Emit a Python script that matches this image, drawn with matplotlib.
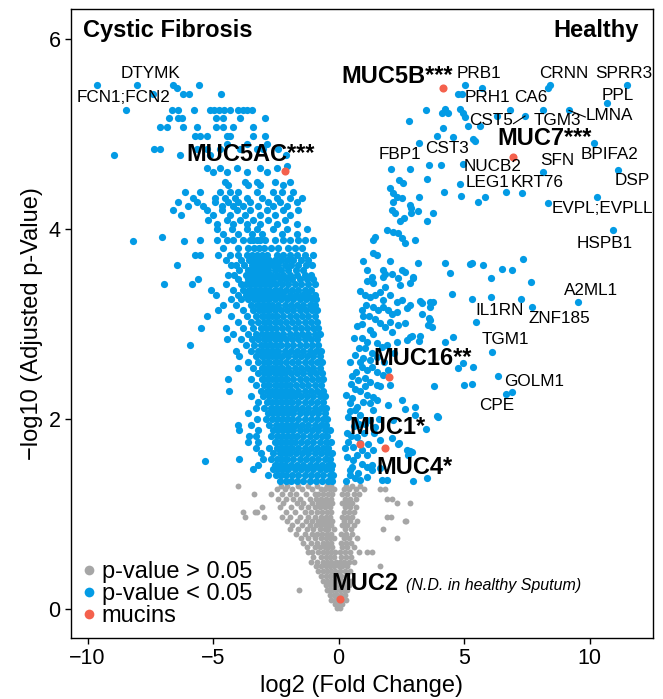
import numpy as np
import matplotlib.pyplot as plt
from matplotlib.lines import Line2D

plt.rcParams['font.family'] = ['Liberation Sans', 'DejaVu Sans']

# significant proteins (p < 0.05): (-log10 p, [log2 FC, ...])
sig_rows = [
    (5.52, [-9.62, -8.04, -6.6, -5.56]),
    (5.48, [-6.43]),
    (5.42, [-7.4, -6.19, -5.96, -4.68]),
    (5.25, [-8.46, -6.63, -6.39, -5.76, -5.12, -4.96, -4.76, -4.56, -4.32, -4.0, -3.8, -3.65, -3.45]),
    (5.17, [-6.75, -6.39, -6.24, -4.88, -4.6, -3.92, -2.93]),
    (5.07, [-7.11, -6.83, -6.2, -5.64, -4.88, -4.6, -4.2, -3.41]),
    (4.98, [-5.72, -5.52, -5.24, -4.44, -4.32, -3.41, -2.93]),
    (4.9, [-4.44, -3.65, -2.85]),
    (4.84, [-7.35, -7.11, -5.64, -5.24, -4.72, -3.92, -3.25, -3.01, -2.41]),
    (4.78, [-8.96, -6.32, -5.12, -2.09]),
    (4.66, [-2.05]),
    (4.64, [-5.24, -4.72, -4.04, -3.13, -2.45]),
    (4.6, [-5.0, -4.44, -3.65, -2.85]),
    (4.5, [-4.52, -3.72, -3.25, -2.53, -1.93]),
    (4.46, [-4.4, -3.61, -3.13, -2.21]),
    (4.39, [-6.12, -5.52, -4.72, -4.32, -4.0, -3.25, -2.61, -2.25, -1.81]),
    (4.33, [-5.8, -4.92, -4.52, -4.12, -3.65, -3.05, -2.45, -1.93, -1.45]),
    (4.28, [-6.39, -5.64, -4.92, -4.4, -4.0, -3.53, -2.81, -2.33, -1.65]),
    (4.24, [-6.0, -5.4, -4.64, -4.2, -3.8, -3.21, -2.61, -2.05]),
    (4.2, [-6.59, -5.24, -4.64, -4.04, -3.53, -2.85, -2.21, -1.61]),
    (4.15, [-6.27, -5.0, -4.32, -3.72, -3.13, -2.53, -1.93]),
    (4.1, [-5.2, -4.44, -3.92, -3.41, -2.81, -2.13]),
    (4.05, [-4.84, -4.2, -3.65, -3.13, -2.45, -1.65]),
    (4.0, [-4.84, -4.24, -3.65, -3.25, -2.61, -2.05, -1.25]),
    (3.95, [-4.6, -4.0, -3.45, -3.05, -2.25, -1.65]),
    (3.92, [-7.03]),
    (3.87, [-8.18, -6.16]),
    (3.88, [-5.52, -4.84, -4.44, -4.2, -3.8, -3.53, -3.41, -3.25, -3.13, -2.93, -2.53, -2.21, -1.93, -1.61, -1.33, -1.02]),
    (3.8, [-4.6, -4.0, -3.6, -3.35, -3.15, -2.95, -2.7, -2.4, -2.0, -1.75, -1.45]),
    (3.73, [-5.72, -5.52, -4.8, -4.32, -4.0, -3.65, -3.45, -3.25, -3.05, -2.85, -2.45, -2.21, -1.93, -1.65, -1.33, -1.02]),
    (3.67, [-4.5, -3.9, -3.55, -3.35, -3.15, -2.95, -2.75, -2.55, -2.3, -2.05, -1.8, -1.5, -1.2]),
    (3.62, [-6.43, -4.3, -4.1, -3.75, -3.45, -3.25, -3.05, -2.85, -2.65, -2.4, -2.15, -1.9, -1.6, -1.3, -1.05]),
    (3.57, [-3.95, -3.6, -3.4, -3.2, -3.0, -2.8, -2.55, -2.3, -2.0, -1.7, -1.4]),
    (3.52, [-4.4, -4.15, -3.7, -3.5, -3.3, -3.1, -2.9, -2.7, -2.45, -2.2, -1.95, -1.65, -1.35, -1.1]),
    (3.47, [-5.6, -4.0, -3.6, -3.4, -3.2, -3.0, -2.8, -2.6, -2.35, -2.1, -1.85, -1.55, -1.25, -1.0]),
    (3.42, [-6.95, -5.84, -4.5, -3.9, -3.7, -3.5, -3.3, -3.1, -2.9, -2.7, -2.5, -2.25, -2.0, -1.75, -1.5, -1.2, -0.95]),
    (3.36, [-5.1, -4.2, -3.8, -3.55, -3.35, -3.15, -2.95, -2.75, -2.55, -2.35, -2.1, -1.85, -1.6, -1.35, -1.1]),
    (3.31, [-4.9, -4.0, -3.7, -3.45, -3.25, -3.05, -2.85, -2.65, -2.45, -2.2, -1.95, -1.7, -1.45, -1.2, -0.95]),
    (3.26, [-4.3, -3.9, -3.6, -3.35, -3.15, -2.95, -2.75, -2.55, -2.3, -2.05, -1.8, -1.55, -1.3, -1.05, -0.9]),
    (3.2, [-4.6, -4.1, -3.5, -3.25, -3.05, -2.85, -2.65, -2.4, -2.15, -1.9, -1.65, -1.4, -1.15, -0.95]),
    (3.15, [-4.8, -3.8, -3.4, -3.15, -2.95, -2.75, -2.55, -2.3, -2.05, -1.8, -1.55, -1.3, -1.05, -0.85]),
    (3.08, [-5.24, -4.3, -3.65, -3.3, -3.05, -2.85, -2.65, -2.45, -2.2, -1.95, -1.7, -1.45, -1.2, -0.95]),
    (3.02, [-4.0, -3.5, -3.2, -2.95, -2.75, -2.55, -2.35, -2.1, -1.85, -1.6, -1.35, -1.1, -0.85]),
    (2.96, [-5.48, -4.5, -3.8, -3.4, -3.1, -2.9, -2.7, -2.5, -2.25, -2.0, -1.75, -1.5, -1.25, -1.0, -0.8]),
    (2.9, [-4.2, -3.6, -3.3, -3.05, -2.85, -2.65, -2.45, -2.2, -1.95, -1.7, -1.45, -1.2, -0.95, -0.75]),
    (2.84, [-4.45, -3.9, -3.45, -3.2, -2.95, -2.75, -2.55, -2.35, -2.1, -1.85, -1.6, -1.35, -1.1, -0.85]),
    (2.78, [-5.9, -3.7, -3.35, -3.1, -2.9, -2.7, -2.5, -2.3, -2.05, -1.8, -1.55, -1.3, -1.05, -0.8]),
    (2.72, [-4.1, -3.5, -3.2, -3.0, -2.8, -2.6, -2.4, -2.15, -1.9, -1.65, -1.4, -1.15, -0.9, -0.7]),
    (2.66, [-3.95, -3.3, -3.05, -2.85, -2.65, -2.45, -2.25, -2.0, -1.75, -1.5, -1.25, -1.0, -0.75]),
    (2.6, [-3.6, -3.2, -2.95, -2.75, -2.55, -2.35, -2.1, -1.85, -1.6, -1.35, -1.1, -0.85, -0.65]),
    (2.54, [-4.0, -3.4, -3.05, -2.85, -2.65, -2.45, -2.25, -2.0, -1.75, -1.5, -1.25, -1.0, -0.75]),
    (2.48, [-3.2, -2.95, -2.75, -2.55, -2.35, -2.15, -1.9, -1.65, -1.4, -1.15, -0.9, -0.65]),
    (2.42, [-4.4, -3.5, -3.05, -2.85, -2.65, -2.45, -2.25, -2.05, -1.8, -1.55, -1.3, -1.05, -0.8, -0.6]),
    (2.36, [-3.3, -2.95, -2.75, -2.55, -2.35, -2.15, -1.95, -1.7, -1.45, -1.2, -0.95, -0.7]),
    (2.3, [-4.35, -3.1, -2.85, -2.65, -2.45, -2.25, -2.05, -1.85, -1.6, -1.35, -1.1, -0.85, -0.6]),
    (2.24, [-3.5, -3.0, -2.75, -2.55, -2.35, -2.15, -1.95, -1.75, -1.5, -1.25, -1.0, -0.75, -0.55]),
    (2.18, [-3.2, -2.85, -2.65, -2.45, -2.25, -2.05, -1.85, -1.6, -1.35, -1.1, -0.85, -0.6]),
    (2.12, [-3.3, -2.95, -2.7, -2.5, -2.3, -2.1, -1.9, -1.7, -1.45, -1.2, -0.95, -0.7, -0.5]),
    (2.06, [-3.6, -2.8, -2.6, -2.4, -2.2, -2.0, -1.8, -1.55, -1.3, -1.05, -0.8, -0.55]),
    (2.0, [-3.25, -2.9, -2.65, -2.45, -2.25, -2.05, -1.85, -1.6, -1.35, -1.1, -0.85, -0.6, -0.45]),
    (1.94, [-4.0, -3.5, -2.75, -2.5, -2.3, -2.1, -1.9, -1.7, -1.45, -1.2, -0.95, -0.7, -0.5]),
    (1.88, [-3.95, -3.2, -2.6, -2.4, -2.2, -2.0, -1.8, -1.55, -1.3, -1.05, -0.8, -0.55, -0.35]),
    (1.82, [-3.55, -3.3, -2.7, -2.45, -2.25, -2.05, -1.85, -1.65, -1.4, -1.15, -0.9, -0.65, -0.45]),
    (1.76, [-3.6, -3.2, -2.55, -2.35, -2.15, -1.95, -1.75, -1.5, -1.25, -1.0, -0.75, -0.5, -0.3]),
    (1.7, [-3.3, -2.75, -2.45, -2.25, -2.05, -1.85, -1.6, -1.35, -1.1, -0.85, -0.6, -0.4]),
    (1.64, [-3.1, -2.6, -2.35, -2.15, -1.95, -1.7, -1.45, -1.2, -0.95, -0.7, -0.45, -0.25]),
    (1.58, [-3.95, -3.0, -2.7, -2.45, -2.25, -2.05, -1.8, -1.55, -1.3, -1.05, -0.8, -0.55, -0.35]),
    (1.56, [-5.3]),
    (1.52, [-3.2, -2.55, -2.35, -2.15, -1.9, -1.65, -1.4, -1.15, -0.9, -0.65, -0.4, -0.25]),
    (1.47, [-3.41, -2.6, -2.4, -2.2, -2.0, -1.75, -1.5, -1.25, -1.0, -0.75, -0.5, -0.3]),
    (1.41, [-2.8, -2.5, -2.3, -2.1, -1.85, -1.6, -1.35, -1.1, -0.85, -0.6, -0.35, -0.22]),
    (1.35, [-2.35, -2.1, -1.9, -1.65, -1.4, -1.15, -0.9, -0.65, -0.4, -0.25]),
]

# significant proteins up in healthy (single points)
sig_right = [
    (5.04, 5.52), (5.72, 5.49), (4.76, 5.42), (4.92, 5.42), (8.43, 5.52), (8.35, 5.49), (11.49, 5.52),
    (10.7, 5.33), (9.18, 5.25), (8.15, 5.25), (6.83, 5.25), (7.43, 5.19), (6.31, 5.19), (4.84, 5.26),
    (4.96, 5.22), (5.04, 5.18), (4.24, 5.26), (4.36, 5.22), (4.12, 5.22), (3.49, 5.25), (2.81, 5.14),
    (5.16, 5.08), (5.64, 5.08), (4.16, 5.06), (3.92, 4.98), (4.56, 4.97), (5.36, 4.95), (5.44, 4.93),
    (3.21, 4.91), (10.17, 4.91), (3.61, 4.67), (4.08, 4.67), (4.96, 4.68), (2.09, 4.63), (2.85, 4.63),
    (3.53, 4.53), (11.13, 4.62), (8.15, 4.6), (4.84, 4.47), (4.2, 4.39), (4.88, 4.35), (5.56, 4.29),
    (5.84, 4.34), (6.67, 4.39), (7.31, 4.38), (8.35, 4.27), (10.29, 4.34), (10.94, 3.99), (3.21, 4.34),
    (2.41, 4.52), (2.57, 4.49), (2.05, 4.43), (2.17, 4.38), (2.33, 4.34), (2.53, 4.33), (2.17, 4.28),
    (2.85, 4.25), (2.13, 4.2), (2.25, 4.17), (2.89, 4.22), (2.89, 4.17), (3.17, 4.19), (2.45, 4.09),
    (2.61, 4.12), (3.53, 4.09), (3.76, 4.17), (1.93, 3.99), (2.17, 3.97), (2.37, 3.96), (2.53, 3.91),
    (2.65, 3.85), (3.05, 3.89), (1.45, 3.92), (1.37, 3.88), (0.97, 3.66), (1.37, 3.75), (1.53, 3.73),
    (2.05, 3.66), (3.17, 3.64), (4.24, 3.64), (4.44, 3.54), (5.24, 3.63), (5.32, 3.64), (1.14, 3.57),
    (1.77, 3.57), (1.85, 3.53), (2.53, 3.57), (2.65, 3.55), (2.97, 3.49),
    (7.35, 3.68), (5.76, 3.62), (6.51, 3.58), (6.91, 3.57), (6.08, 3.49), (7.67, 3.44), (4.52, 3.32),
    (5.32, 3.26), (6.08, 3.28), (7.27, 3.26), (7.71, 3.18), (9.54, 3.23), (5.48, 3.02), (3.65, 3.23),
    (3.76, 3.23), (3.25, 3.24), (3.33, 3.22), (3.61, 3.06), (4.56, 2.86), (6.1, 2.71), (4.96, 2.59),
    (4.76, 2.54), (5.36, 2.55), (6.35, 2.45), (3.8, 2.35), (5.0, 2.36), (5.32, 2.37), (6.91, 2.28),
    (6.67, 2.26), (3.92, 2.03), (3.21, 2.82), (2.85, 2.86), (4.24, 2.81), (3.73, 2.97),
    (1.32, 3.5), (1.39, 3.43), (1.79, 3.5), (1.85, 3.39), (2.38, 3.48), (2.45, 3.41), (2.85, 3.43),
    (2.98, 3.5), (2.12, 3.53), (1.06, 3.31), (1.25, 3.29), (1.45, 3.31), (1.65, 3.34), (1.79, 3.25),
    (2.05, 3.31), (2.32, 3.23), (2.52, 3.25), (0.92, 3.15), (0.99, 3.09), (1.39, 3.18), (1.59, 3.15),
    (1.79, 3.18), (1.98, 3.15), (2.12, 3.11), (2.32, 3.13), (2.72, 3.17), (2.85, 3.2), (3.31, 3.11),
    (3.65, 3.18), (1.25, 2.94), (1.39, 2.9), (1.65, 3.01), (1.85, 2.97), (2.05, 3.02), (2.12, 2.92),
    (2.38, 2.99), (2.65, 3.01), (3.65, 3.04), (3.58, 2.99), (0.92, 2.85), (1.12, 2.81), (1.52, 2.8),
    (1.72, 2.76), (1.92, 2.78), (2.32, 2.81), (2.72, 2.83), (2.92, 2.87), (3.25, 2.87), (0.66, 2.67),
    (0.99, 2.64), (1.25, 2.62), (0.92, 2.55), (1.12, 2.52), (1.32, 2.55), (1.52, 2.5), (1.79, 2.46),
    (1.98, 2.52), (0.53, 2.45), (0.79, 2.41), (1.06, 2.43), (1.25, 2.39), (1.52, 2.36), (0.66, 2.32),
    (0.86, 2.29), (1.12, 2.25), (1.39, 2.23), (2.05, 2.36), (0.46, 2.17), (0.72, 2.13), (0.99, 2.18),
    (1.25, 2.17), (1.52, 2.2), (1.39, 2.09), (1.98, 2.15), (2.52, 2.2), (2.65, 2.11), (3.05, 2.13),
    (0.39, 2.02), (0.66, 1.99), (0.86, 2.04), (1.06, 1.95), (1.25, 1.99), (1.45, 1.92), (0.33, 1.85),
    (0.72, 1.81), (2.18, 1.99), (3.98, 2.02), (0.39, 1.76), (0.59, 1.71), (0.92, 1.67), (1.19, 1.74),
    (1.39, 1.67), (1.65, 1.78), (2.12, 1.8), (2.38, 1.74), (2.85, 1.66), (2.78, 1.62), (0.33, 1.6),
    (0.59, 1.57), (0.92, 1.53), (1.12, 1.5), (1.32, 1.46), (1.65, 1.48), (0.46, 1.46), (0.79, 1.43),
    (0.46, 1.41), (0.66, 1.38), (0.86, 1.36), (1.14, 1.39), (1.73, 1.36), (1.93, 1.36), (2.97, 1.35),
    (3.53, 1.38), (2.41, 1.75), (2.73, 1.67), (2.93, 1.65), (3.05, 2.04), (3.49, 1.89), (1.33, 1.52),
    (0.3, 1.35), (0.55, 1.5), (0.25, 1.7), (0.5, 1.82), (0.6, 1.93), (0.45, 2.08), (0.3, 2.25),
    (0.55, 2.22), (0.7, 2.5), (0.45, 2.6), (0.8, 2.75), (0.6, 2.85), (0.75, 2.98), (0.95, 3.0),
    (1.1, 3.2), (0.85, 3.35), (1.15, 3.45), (0.75, 1.62), (1.0, 1.85), (0.8, 1.95), (1.05, 2.35),
    (0.85, 2.6), (1.05, 2.75), (1.35, 2.7), (0.65, 2.1), (0.5, 2.37), (1.15, 1.62), (0.85, 1.75),
    (1.4, 1.85), (1.6, 2.0), (1.65, 2.35), (1.8, 2.6), (2.2, 2.7), (1.55, 2.65), (1.45, 3.05), (1.2, 3.08),
]

# not significant proteins (p > 0.05), row by row
ns_rows = [
    (1.3, [-2.3, -2.05, -1.6, -1.2, -0.85, -0.45, -0.3, 0.3, 0.55, 0.85]),
    (1.29, [-3.99]),
    (1.26, [-2.45, -2.15, -1.85, -1.45, -1.05, -0.7, -0.55, -0.35, -0.2, 0.2, 0.4, 0.7, 1.0, 1.65, 1.85]),
    (1.21, [-3.37, -2.69, -2.25, -1.95, -1.7, -1.3, -0.95, -0.8, -0.6, -0.4, -0.25, 0.15, 0.35, 0.6, 0.8]),
    (1.16, [-2.4, -2.1, -1.8, -1.55, -1.15, -0.9, -0.7, -0.5, -0.3, 0.25, 0.45, 0.7, 1.93, 2.15]),
    (1.12, [-2.2, -1.65, -1.4, -1.05, -0.8, -0.6, -0.4, -0.25, 0.15, 0.35, 0.55, 2.33, 2.85]),
    (1.07, [-3.05, -2.35, -1.9, -1.5, -1.2, -0.95, -0.75, -0.55, -0.35, 0.25, 0.45, 0.7]),
    (1.02, [-3.8, -3.33, -3.25, -2.1, -1.75, -1.35, -1.1, -0.85, -0.65, -0.45, -0.3, 0.2, 0.4, 0.6]),
    (0.97, [-3.72, -2.97, -2.25, -1.95, -1.55, -1.2, -0.95, -0.7, -0.5, -0.35, 0.15, 0.35, 0.55, 1.93, 2.1]),
    (0.93, [-2.05, -1.65, -1.3, -1.05, -0.8, -0.6, -0.4, -0.25, 0.2, 0.45, 0.75, 2.65, 2.7]),
    (0.88, [-1.85, -1.45, -1.15, -0.9, -0.7, -0.5, -0.3, 0.15, 0.35, 0.6]),
    (0.84, [-1.95, -1.6, -1.25, -1.0, -0.75, -0.55, -0.4, -0.2, 0.25, 0.5, 1.77]),
    (0.79, [-1.7, -1.35, -1.05, -0.85, -0.65, -0.45, -0.3, 0.1, 0.3, 0.55]),
    (0.75, [-1.5, -1.2, -0.95, -0.7, -0.5, -0.35, -0.2, 0.2, 0.4, 0.75, 2.33]),
    (0.7, [-1.4, -1.1, -0.85, -0.6, -0.45, -0.3, 0.1, 0.3, 0.5]),
    (0.65, [-1.25, -0.95, -0.75, -0.55, -0.4, -0.25, 0.15, 0.35, 0.6]),
    (0.6, [-1.2, -1.05, -0.8, -0.6, -0.45, -0.3, -0.15, 0.05, 0.25, 0.45, 0.82, 1.15, 1.33]),
    (0.55, [-1.0, -0.7, -0.5, -0.35, -0.2, 0.1, 0.3, 0.5]),
    (0.5, [-1.1, -0.85, -0.6, -0.45, -0.3, -0.1, 0.05, 0.2, 0.4, 0.6]),
    (0.45, [-0.9, -0.7, -0.5, -0.35, -0.2, 0.0, 0.15, 0.35, 1.65]),
    (0.4, [-0.8, -0.6, -0.45, -0.3, -0.15, 0.05, 0.25, 0.45]),
    (0.35, [-0.7, -0.5, -0.35, -0.2, -0.05, 0.1, 0.3]),
    (0.3, [-0.6, -0.45, -0.3, -0.15, 0.0, 0.15, 0.35, 0.5]),
    (0.25, [-0.5, -0.35, -0.2, -0.05, 0.1, 0.25, 0.4]),
    (0.2, [-1.57, -0.45, -0.38, -0.25, -0.1, 0.05, 0.2, 0.35]),
    (0.15, [-0.35, -0.2, -0.05, 0.1, 0.25]),
    (0.1, [-0.3, -0.15, 0.0, 0.15, 0.3]),
    (0.05, [-0.15, 0.0, 0.15]),
    (0.01, [-0.05, 0.05]),
]

# mucins
muc_names = ['MUC5B***', 'MUC7***', 'MUC5AC***', 'MUC16**', 'MUC1*', 'MUC4*', 'MUC2']
muc_x = [4.16, 6.95, -2.13, 2.01, 0.86, 1.85, 0.06]
muc_y = [5.48, 4.76, 4.61, 2.44, 1.74, 1.69, 0.11]
muc_tx = [2.33, 8.19, -3.49, 3.33, 1.93, 3.01, 1.06]
muc_ty = [5.61, 4.95, 4.78, 2.64, 1.91, 1.49, 0.27]

# gene labels (text centres)
gene_names = ['DTYMK', 'FCN1;FCN2', 'PRB1', 'CRNN', 'SPRR3', 'PRH1', 'CA6', 'PPL', 'CST5', 'TGM3',
              'LMNA', 'FBP1', 'CST3', 'NUCB2', 'SFN', 'BPIFA2', 'LEG1', 'KRT76', 'DSP', 'EVPL;EVPLL',
              'HSPB1', 'A2ML1', 'IL1RN', 'ZNF185', 'TGM1', 'GOLM1', 'CPE']
gene_tx = [-7.51, -8.58, 5.6, 8.98, 11.37, 5.92, 7.67, 11.14, 6.08, 8.71,
           10.78, 2.45, 4.32, 6.12, 8.71, 10.78, 5.92, 7.92, 11.69, 10.5,
           10.62, 10.06, 6.43, 8.79, 6.63, 7.79, 6.31]
gene_ty = [5.64, 5.38, 5.64, 5.64, 5.64, 5.38, 5.38, 5.41, 5.14, 5.14,
           5.2, 4.78, 4.85, 4.66, 4.72, 4.79, 4.49, 4.49, 4.51, 4.22,
           3.85, 3.35, 3.14, 3.06, 2.84, 2.4, 2.14]

BLUE = '#039BE5'
GRAY = '#A6A6A6'
RED = '#F4614D'

sig_x = [x for y, xs in sig_rows for x in xs] + [p[0] for p in sig_right]
sig_y = [y for y, xs in sig_rows for x in xs] + [p[1] for p in sig_right]
ns_x = [x for y, xs in ns_rows for x in xs]
ns_y = [y for y, xs in ns_rows for x in xs]

fig = plt.figure(figsize=(6.63, 6.99), dpi=100)
ax = fig.add_axes([0.107, 0.0873, 0.878, 0.8997])

ax.scatter(ns_x, ns_y, s=18, color=GRAY, linewidths=0, zorder=2)
ax.scatter(sig_x, sig_y, s=27, color=BLUE, linewidths=0, zorder=3)
ax.scatter(muc_x, muc_y, s=34, color=RED, linewidths=0, zorder=4)

for name, tx, ty in zip(gene_names, gene_tx, gene_ty):
    ax.text(tx, ty, name, fontsize=12.3, ha='center', va='center', zorder=5)

# leader lines
ax.plot([6.97, 7.43], [5.11, 5.19], color='black', lw=0.8, zorder=5)
ax.plot([9.18, 9.83], [5.25, 5.18], color='black', lw=0.8, zorder=5)

for name, tx, ty in zip(muc_names, muc_tx, muc_ty):
    ax.text(tx, ty, name, fontsize=17, fontweight='bold', ha='center', va='center', zorder=5)
ax.text(2.69, 0.25, '(N.D. in healthy Sputum)', fontsize=11.5, style='italic', ha='left', va='center')

ax.text(0.02, 0.955, 'Cystic Fibrosis', transform=ax.transAxes, fontsize=17, fontweight='bold', va='baseline')
ax.text(0.976, 0.955, 'Healthy', transform=ax.transAxes, fontsize=17, fontweight='bold', va='baseline', ha='right')

handles = [
    Line2D([], [], marker='o', ls='', color=GRAY, markersize=7, markeredgewidth=0, label='p-value > 0.05'),
    Line2D([], [], marker='o', ls='', color=BLUE, markersize=7, markeredgewidth=0, label='p-value < 0.05'),
    Line2D([], [], marker='o', ls='', color=RED, markersize=7, markeredgewidth=0, label='mucins'),
]
ax.legend(handles=handles, loc='lower left', frameon=False, fontsize=17, handlelength=0.6,
          handletextpad=0.25, labelspacing=0.0, borderaxespad=0.3, borderpad=0.15)

ax.set_xlim(-10.66, 12.53)
ax.set_ylim(-0.305, 6.316)
ax.set_xticks([-10, -5, 0, 5, 10])
ax.set_yticks([0, 2, 4, 6])
ax.tick_params(labelsize=15.5, length=4, width=1, color='black')
for sp in ax.spines.values():
    sp.set_linewidth(1.0)

ax.set_xlabel('log2 (Fold Change)', fontsize=17)
ax.set_ylabel('\u2212log10 (Adjusted p-Value)', fontsize=17)

fig.savefig('out.png', dpi=100)
